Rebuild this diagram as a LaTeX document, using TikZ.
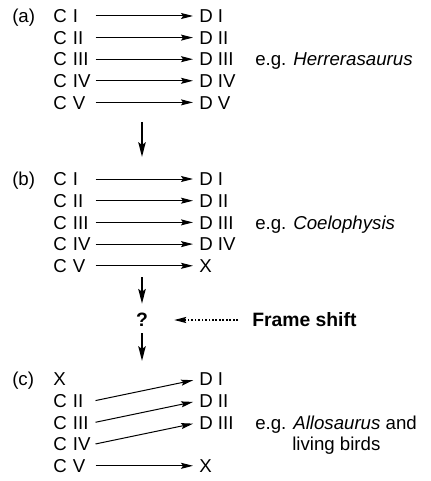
\documentclass[tikz,border=0pt]{standalone}
\usepackage{fontspec}
\setmainfont{Liberation Sans}
\usetikzlibrary{arrows.meta}

\begin{document}
\begin{tikzpicture}[x=0.75pt,y=-0.75pt,
  every node/.style={font=\fontsize{14}{16}\selectfont,inner sep=0pt,anchor=west,
    text height=10pt,text depth=0pt},
  clabel/.style={text width=31pt,align=left},
  link/.style={-{Stealth[length=9pt,width=4.5pt,inset=1.5pt]},line width=0.75pt,
    shorten <=0.5pt,shorten >=4.5pt},
  down/.style={-{Stealth[length=11pt,width=5.5pt,inset=2pt]},line width=1.6pt},
  dotlink/.style={-{Stealth[length=9pt,width=4.5pt,inset=1.5pt]},line width=1.3pt,
    dash pattern=on 1.3pt off 1.3pt}]
  \useasboundingbox (0,0) rectangle (431,481);

  % (a)
  \node (la) at (12,16) {(a)};
  \foreach \n [count=\i] in {I,II,III,IV,V} {
    \node[clabel] (ca\i) at (53,{16+21.6*(\i-1)}) {C \n};
    \node (da\i) at (199,{16+21.6*(\i-1)}) {D \n};
    \draw[link] (ca\i.east) -- (da\i.west);
  }
  \node (ega) at (255,59.2) {e.g. \textit{Herrerasaurus}};

  \coordinate (s1) at (142,122);
  \coordinate (e1) at (142,157);
  \draw[down] (s1) -- (e1);

  % (b)
  \node (lb) at (12,179) {(b)};
  \foreach \n [count=\i] in {I,II,III,IV,V} {
    \node[clabel] (cb\i) at (53,{179+21.7*(\i-1)}) {C \n};
  }
  \foreach \n [count=\i] in {D I,D II,D III,D IV,X} {
    \node (db\i) at (199,{179+21.7*(\i-1)}) {\n};
    \draw[link] (cb\i.east) -- (db\i.west);
  }
  \node (egb) at (255,222.4) {e.g. \textit{Coelophysis}};

  % frame shift
  \coordinate (s2) at (142,277);
  \node[anchor=center,font=\fontsize{14.5}{16}\selectfont\bfseries] (q) at (142,320) {?};
  \draw[down,shorten >=7pt] (s2) -- (q.north);
  \node[font=\fontsize{14.5}{16}\selectfont\bfseries] (fs) at (252,320) {Frame shift};
  \draw[dotlink,shorten <=10.5pt,shorten >=19.5pt] (fs.west) -- (q.east);
  \coordinate (e3) at (142,361);
  \draw[down,shorten <=4.7pt] (q.south) -- (e3);

  % (c)
  \node (lc) at (12,379) {(c)};
  \foreach \n [count=\i] in {X,C II,C III,C IV,C V} {
    \node[clabel] (cc\i) at (53,{379+21.7*(\i-1)}) {\n};
  }
  \foreach \n [count=\i] in {D I,D II,D III,,X} {
    \node (dc\i) at (199,{379+21.7*(\i-1)}) {\n};
  }
  \draw[link] (cc2.east) -- (dc1.west);
  \draw[link] (cc3.east) -- (dc2.west);
  \draw[link] (cc4.east) -- (dc3.west);
  \draw[link] (cc5.east) -- (dc5.west);
  \node (egc) at (255,422.4) {e.g. \textit{Allosaurus} and};
  \node (egc2) at (292,444) {living birds};
\end{tikzpicture}
\end{document}
